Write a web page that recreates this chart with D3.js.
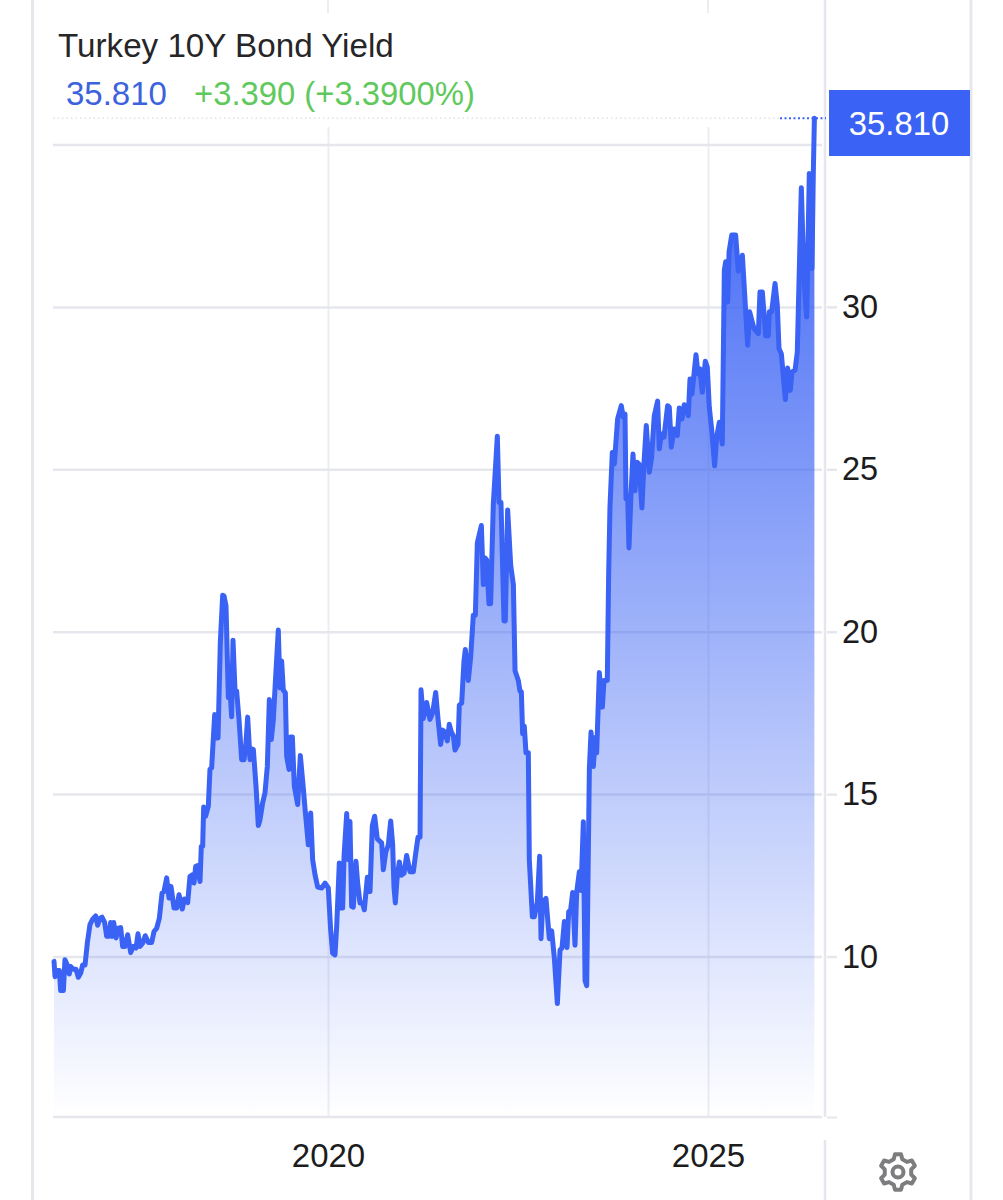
<!DOCTYPE html>
<html><head><meta charset="utf-8">
<script src="https://cdn.jsdelivr.net/npm/d3@7/dist/d3.min.js"></script>
<style>html,body{margin:0;padding:0;background:#fff}svg{display:block}text{font-family:"Liberation Sans",Arial,sans-serif}</style>
</head><body><svg id="c" width="1003" height="1200"></svg>
<script>
const title = "Turkey 10Y Bond Yield";
const lastValue = 35.81;
const lastLabel = "35.810";
const changeLabel = "+3.390 (+3.3900%)";
const yTicks = [10,15,20,25,30,35];
const yLabelled = [10,15,20,25,30];
const xTicks = [2020,2025];
const years = [
2016.395,2016.408,2016.439,2016.465,2016.482,2016.5,2016.518,2016.539,2016.57,2016.596,2016.614,2016.649,2016.684,2016.715,2016.746,2016.772,2016.803,2016.833,2016.868,2016.904,2016.943,2016.969,2017,2017.026,2017.061,2017.088,2017.123,2017.14,2017.162,2017.18,2017.211,2017.241,2017.272,2017.298,2017.329,2017.364,2017.404,2017.439,2017.474,2017.5,2017.526,2017.561,2017.596,2017.636,2017.68,2017.711,2017.746,2017.781,2017.816,2017.842,2017.877,2017.908,2017.934,2017.974,2018.009,2018.04,2018.083,2018.11,2018.154,2018.184,2018.219,2018.237,2018.259,2018.281,2018.316,2018.333,2018.351,2018.364,2018.39,2018.425,2018.447,2018.469,2018.509,2018.526,2018.553,2018.583,2018.614,2018.632,2018.658,2018.689,2018.711,2018.732,2018.75,2018.776,2018.798,2018.829,2018.864,2018.895,2018.917,2018.943,2018.974,2019,2019.018,2019.053,2019.083,2019.105,2019.14,2019.171,2019.202,2019.228,2019.254,2019.281,2019.307,2019.346,2019.368,2019.39,2019.412,2019.439,2019.456,2019.487,2019.509,2019.531,2019.557,2019.601,2019.636,2019.675,2019.697,2019.741,2019.772,2019.798,2019.829,2019.864,2019.917,2019.961,2020.004,2020.035,2020.061,2020.092,2020.114,2020.149,2020.171,2020.193,2020.211,2020.246,2020.268,2020.289,2020.311,2020.333,2020.368,
2020.39,2020.421,2020.452,2020.478,2020.518,2020.553,2020.583,2020.614,2020.649,2020.706,2020.728,2020.759,2020.794,2020.825,2020.851,2020.868,2020.886,2020.912,2020.939,2020.965,2021,2021.035,2021.079,2021.123,2021.149,2021.184,2021.211,2021.224,2021.254,2021.298,2021.342,2021.377,2021.417,2021.447,2021.482,2021.509,2021.539,2021.57,2021.596,2021.623,2021.649,2021.671,2021.711,2021.728,2021.759,2021.789,2021.807,2021.846,2021.877,2021.912,2021.939,2021.965,2022.018,2022.044,2022.066,2022.088,2022.118,2022.14,2022.175,2022.228,2022.25,2022.276,2022.316,2022.333,2022.364,2022.404,2022.439,2022.461,2022.504,2022.526,2022.544,2022.561,2022.583,2022.605,2022.636,2022.649,2022.689,2022.715,2022.754,2022.785,2022.803,2022.825,2022.868,2022.912,2022.943,2022.978,2023.018,2023.053,2023.079,2023.11,2023.145,2023.167,2023.193,2023.219,2023.25,2023.272,2023.307,2023.329,2023.36,2023.382,2023.404,2023.439,2023.461,2023.491,2023.518,2023.535,2023.57,2023.61,2023.632,2023.675,2023.693,
2023.71,2023.741,2023.767,2023.811,2023.859,2023.886,2023.908,2023.921,2023.943,2023.96,2023.986,2024.013,2024.039,2024.065,2024.092,2024.131,2024.157,2024.188,2024.228,2024.258,2024.293,2024.337,2024.359,2024.386,2024.421,2024.469,2024.491,2024.517,2024.552,2024.596,2024.622,2024.658,2024.688,2024.741,2024.763,2024.789,2024.842,2024.868,2024.894,2024.925,2024.965,2024.991,2025.017,2025.048,2025.087,2025.114,2025.149,2025.188,
2025.215,2025.233,2025.259,2025.277,2025.312,2025.364,2025.399,2025.452,2025.522,2025.548,2025.605,2025.662,2025.684,2025.715,2025.759,2025.794,2025.807,2025.838,2025.882,2025.912,2025.934,2025.965,2026.018,2026.048,2026.083,2026.105,2026.145,2026.175,2026.193,2026.228,2026.263,2026.298,2026.333,2026.368,2026.386,2026.4];
const yields = [
9.85,9.38,9.57,9.57,8.95,9.49,8.95,9.9,9.74,9.46,9.69,9.61,9.61,9.36,9.49,9.74,9.74,10.41,10.98,11.15,11.25,10.96,11.18,11.21,11.05,10.62,10.62,11.05,10.62,11.05,10.57,10.87,10.89,10.31,10.31,10.67,10.12,10.31,10.26,10.7,10.31,10.41,10.64,10.43,10.43,10.77,10.87,11.18,11.95,12,12.42,11.8,12.16,11.49,11.49,11.9,11.46,11.77,11.66,12.47,12.52,12.26,12.77,12.8,12.31,13.39,13.39,14.6,14.32,14.62,15.76,15.81,17.45,16.73,16.73,19.66,21.12,21.1,20.79,17.97,18.22,17.38,19.74,18.22,18.17,17.3,16.06,16.06,16.47,17.37,16.06,16.39,16.37,15.24,14.03,14.21,14.73,15.04,15.86,17.91,16.68,17.3,18.43,20.05,18.27,19.1,18.2,18.12,16.17,15.76,16.76,16.76,15.24,14.68,16.19,15.19,14.57,13.44,14.42,12.98,12.52,12.14,12.11,12.26,12.11,10.82,10.1,10.05,10.92,12.88,11.49,11.49,13.08,14.4,12.98,14.16,11.54,11.52,12.93,
12.26,11.65,11.65,11.44,12.44,12,14.03,14.32,13.62,13.5,12.67,13.2,13.44,14.17,13.44,12.14,11.65,12.5,12.91,12.5,12.56,13.11,12.61,12.61,13.09,13.67,13.67,18.21,17.33,17.82,17.3,17.5,18.13,17.33,16.53,16.97,16.91,16.64,17.15,16.91,16.8,16.36,16.53,17.74,17.8,19.09,19.45,18.5,19.21,20.51,20.51,22.74,23.27,21.45,22.27,22.21,20.86,20.86,23.92,26.02,23.98,23.98,20.33,20.33,23.75,22.04,21.45,18.8,18.5,18.17,18.15,16.86,17.09,16.27,16.27,12.97,11.22,11.22,11.67,13.09,10.55,11.67,11.79,10.55,10.79,9.96,8.55,10.2,10.26,11.08,10.28,11.38,11.44,11.97,10.35,11.97,12.61,12.03,14.15,9.26,9.1,15.79,16.91,15.85,16.74,16.27,18.74,17.68,18.5,18.5,21.8,
23.83,25.52,25.16,26.55,26.96,26.6,26.7,24.09,24.19,22.58,24.19,25.47,24.34,25.22,25.16,23.81,25.16,26.35,24.91,25.37,26.65,27.1,25.63,26.09,25.99,26.96,26.91,25.68,26.24,26.04,26.89,26.55,26.99,26.65,27.78,27.32,28.53,27.94,28.09,27.37,28.33,28.14,26.91,26.24,25.11,25.99,26.45,25.78,
31.13,31.39,30.15,31.69,32.21,32.21,31.1,31.59,28.82,29.85,29.33,29.18,30.46,30.46,29.11,29.11,29.85,29.85,30.72,30.05,28.72,28.56,27.15,28.12,27.43,28,28.05,28.61,30.36,33.67,30.87,29.69,34.11,31.18,34.16,lastValue];

const blue = "#3a62f4", gridC = "#e6e7ed", ink = "#1c1c1e";
const svg = d3.select("#c");
const left = 53, right = 822, bottomY = 1117;
const x = d3.scaleLinear().domain([2020,2025]).range([328,708]);
const y = d3.scaleLinear().domain([10,35]).range([956.5,144.5]);
const pts = years.map((t,i)=>({t,v:yields[i]}));

const defs = svg.append("defs");
const grad = defs.append("linearGradient").attr("id","fill").attr("gradientUnits","userSpaceOnUse")
  .attr("x1",0).attr("x2",0).attr("y1",y(lastValue)).attr("y2",bottomY);
grad.append("stop").attr("offset",0).attr("stop-color",blue).attr("stop-opacity",1);
grad.append("stop").attr("offset",1).attr("stop-color",blue).attr("stop-opacity",0);

// frame
const vline=(px,a,b,w,c)=>svg.append("line").attr("x1",px).attr("x2",px).attr("y1",a).attr("y2",b).attr("stroke",c||gridC).attr("stroke-width",w);
vline(32.5,0,1200,3); vline(971,0,1200,3);
vline(825,0,1117,2.5); vline(825,1140,1200,2.5);
vline(328,0,13,2,"#eceDf2"); vline(708,0,13,2,"#eceDf2");

// vertical grid (x axis ticks)
const xGrid = svg.append("g").attr("transform",`translate(0,${bottomY})`)
  .call(d3.axisBottom(x).tickValues(xTicks).tickSize(-(bottomY-127)).tickFormat(""));
xGrid.select(".domain").remove();
xGrid.selectAll("line").attr("stroke","#eceef3").attr("stroke-width",2);

// horizontal grid
const yGrid = svg.append("g").attr("transform",`translate(${right},0)`)
  .call(d3.axisLeft(y).tickValues(yTicks).tickSize(right-left).tickFormat(""));
yGrid.select(".domain").remove();
yGrid.selectAll("line").attr("stroke",gridC).attr("stroke-width",2.5);
svg.append("line").attr("x1",left).attr("x2",right).attr("y1",bottomY).attr("y2",bottomY).attr("stroke",gridC).attr("stroke-width",2.5);
svg.append("line").attr("x1",827).attr("x2",837).attr("y1",bottomY+0.5).attr("y2",bottomY+0.5).attr("stroke",gridC).attr("stroke-width",2);

// dotted last-value guide
svg.append("line").attr("x1",left).attr("x2",780).attr("y1",y(lastValue)).attr("y2",y(lastValue))
  .attr("stroke","#dfe1ea").attr("stroke-width",1.5).attr("stroke-dasharray","1.5 3");

// area + line
const area = d3.area().x(d=>x(d.t)).y0(bottomY).y1(d=>y(d.v)).curve(d3.curveLinear);
const line = d3.line().x(d=>x(d.t)).y(d=>y(d.v)).curve(d3.curveLinear);
svg.append("path").datum(pts).attr("d",area).attr("fill","url(#fill)");
svg.append("path").datum(pts).attr("d",line).attr("fill","none").attr("stroke",blue)
  .attr("stroke-width",5).attr("stroke-linejoin","round").attr("stroke-linecap","round");
svg.append("line").attr("x1",780).attr("x2",826).attr("y1",y(lastValue)).attr("y2",y(lastValue))
  .attr("stroke",blue).attr("stroke-width",2).attr("stroke-dasharray","2 2.5");

// y axis labels
const yAxis = svg.append("g").attr("transform","translate(827,0)")
  .call(d3.axisRight(y).tickValues(yLabelled).tickSize(10).tickPadding(5).tickFormat(d3.format("d")));
yAxis.select(".domain").remove();
yAxis.selectAll("line").attr("stroke",gridC).attr("stroke-width",2.5);
yAxis.selectAll("text").attr("font-size",32.5).attr("fill",ink).attr("dy",10.5)
  .style("font-family",'"Liberation Sans",Arial,sans-serif');

// x axis labels
const xAxis = svg.append("g").attr("transform",`translate(0,${bottomY})`)
  .call(d3.axisBottom(x).tickValues(xTicks).tickSize(0).tickPadding(0).tickFormat(d3.format("d")));
xAxis.select(".domain").remove();
xAxis.selectAll("text").attr("font-size",33).attr("fill",ink).attr("y",50).attr("dy",0)
  .style("font-family",'"Liberation Sans",Arial,sans-serif');

// header
svg.append("text").attr("x",58).attr("y",57).attr("font-size",33.2).attr("fill","#262628").text(title);
svg.append("text").attr("x",66).attr("y",105).attr("font-size",33).attr("fill","#3c62dc").text(lastLabel);
svg.append("text").attr("x",194).attr("y",105).attr("font-size",32.8).attr("fill","#5fc95d").text(changeLabel);

// last value flag
svg.append("rect").attr("x",829).attr("y",90).attr("width",141).attr("height",66).attr("fill",blue);
svg.append("text").attr("x",899).attr("y",135).attr("text-anchor","middle").attr("font-size",32.8).attr("fill","#fff").text(lastLabel);

// settings gear
const cx=898, cy=1172, teeth=6, ro=18, ri=13.5;
let g=[];
for(let i=0;i<teeth;i++){
  const a=(i/teeth)*2*Math.PI-Math.PI/2, w=Math.PI/teeth;
  [[-0.62,ri],[-0.32,ro],[0.32,ro],[0.62,ri]].forEach(([k,r])=>{
    const t=a+k*w; g.push([cx+r*Math.cos(t),cy+r*Math.sin(t)]);
  });
}
svg.append("path").attr("d",d3.line().curve(d3.curveLinearClosed)(g)).attr("fill","none").attr("stroke","#7d7d7f").attr("stroke-width",4).attr("stroke-linejoin","round");
svg.append("circle").attr("cx",cx).attr("cy",cy).attr("r",5.5).attr("fill","none").attr("stroke","#7d7d7f").attr("stroke-width",4);
</script></body></html>
